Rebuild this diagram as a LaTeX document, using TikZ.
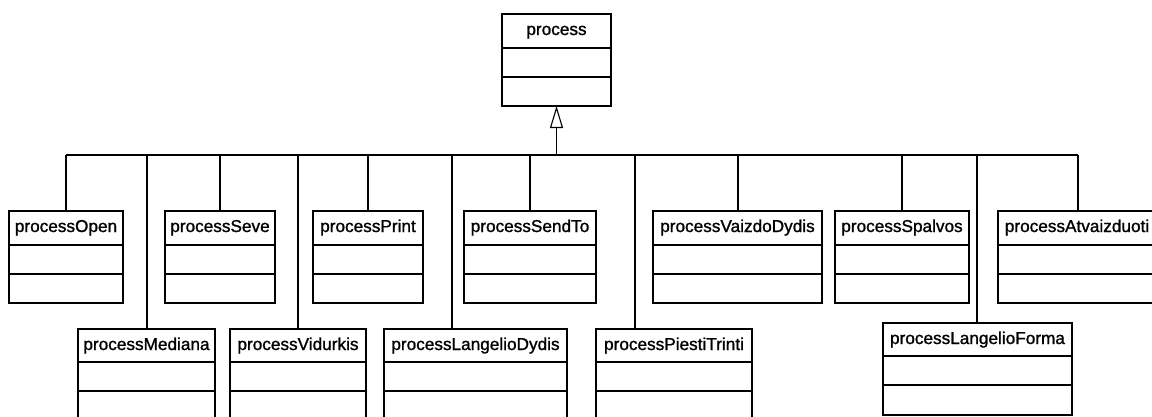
\documentclass[tikz,border=0pt]{standalone}
\usepackage{fontspec}
\setmainfont[FakeBold=1.2]{Liberation Sans}
\usetikzlibrary{arrows.meta}

\tikzset{
  classbox/.style={draw, line width=1.1pt, fill=white, inner sep=0pt, outer sep=0pt, anchor=north west},
  classname/.style={font=\fontsize{17.2}{20}\selectfont, anchor=base, inner sep=0pt},
  link/.style={line width=1.1pt},
  gen/.style={line width=1.1pt, -{Triangle[open, length=22pt, width=13pt, fill=white]}}
}

% #1 name, #2 left, #3 top, #4 width, #5 title, #6 header height
\newcommand\umlclass[6]{%
  \node[classbox, minimum width=#4pt, minimum height=92pt] (#1) at (#2,#3) {};
  \draw[link] ([yshift=-#6pt]#1.north west) -- ([yshift=-#6pt]#1.north east);
  \draw[link] ([yshift=-#6pt-29pt]#1.north west) -- ([yshift=-#6pt-29pt]#1.north east);
  \node[classname] (#1-t) at ([yshift=-21pt]#1.north) {#5};
}

\begin{document}
\begin{tikzpicture}[x=1pt, y=-1pt]
  \fill[white] (0,0) rectangle (1152,416);
  \clip (0,0) rectangle (1152,416);

  % parent class
  \umlclass{process}{502}{14}{109}{process}{34}

  % first row of subclasses
  \umlclass{open}{9}{211}{114}{processOpen}{34}
  \umlclass{seve}{165}{211}{110}{processSeve}{34}
  \umlclass{print}{313}{211}{110}{processPrint}{34}
  \umlclass{sendto}{464}{211}{132}{processSendTo}{34}
  \umlclass{vaizdo}{653}{211}{169}{processVaizdoDydis}{34}
  \umlclass{spalvos}{835}{211}{134}{processSpalvos}{34}
  \umlclass{atv}{998}{211}{158}{processAtvaizduoti}{34}

  % second row of subclasses
  \umlclass{mediana}{78}{329}{137}{processMediana}{33}
  \umlclass{vidurkis}{230}{329}{136}{processVidurkis}{33}
  \umlclass{langdydis}{384}{329}{183}{processLangelioDydis}{33}
  \umlclass{piesti}{596}{329}{156}{processPiestiTrinti}{33}
  \umlclass{langforma}{883}{323}{189}{processLangelioForma}{33}

  % junctions on the shared bus
  \coordinate (j-open) at (66,155);
  \coordinate (j-mediana) at (147,155);
  \coordinate (j-seve) at (220,155);
  \coordinate (j-vidurkis) at (298,155);
  \coordinate (j-print) at (368,155);
  \coordinate (j-langdydis) at (452,155);
  \coordinate (j-sendto) at (530,155);
  \coordinate (j-piesti) at (635,155);
  \coordinate (j-vaizdo) at (738,155);
  \coordinate (j-spalvos) at (902,155);
  \coordinate (j-langforma) at (977,155);
  \coordinate (j-atv) at (1078,155);
  \coordinate (j-top) at (process.south |- j-open);

  % generalization
  \draw[link] (j-open) -- (j-atv);
  \foreach \c in {open,mediana,seve,vidurkis,print,langdydis,sendto,piesti,vaizdo,spalvos,langforma,atv}
    \draw[link] (j-\c) -- (j-\c |- \c.north);
  \draw[gen] (j-top) -- (process.south);
\end{tikzpicture}
\end{document}
